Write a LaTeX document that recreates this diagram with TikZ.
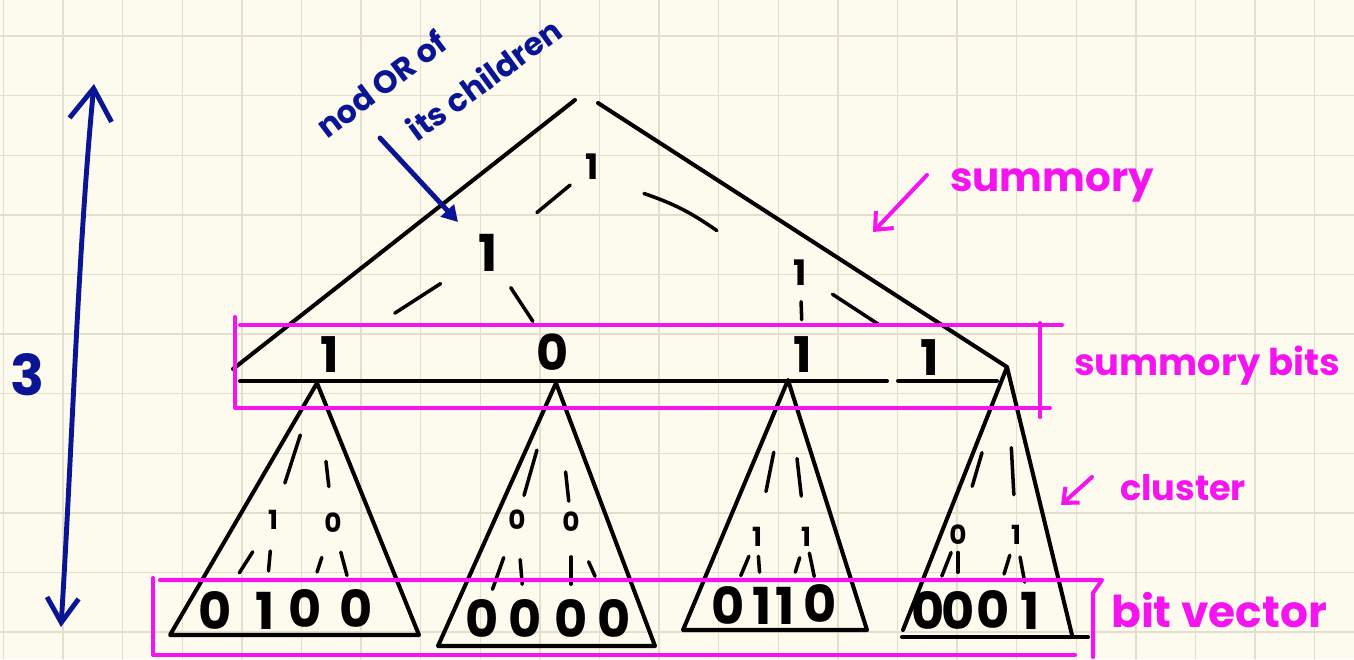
\documentclass[tikz,border=0pt]{standalone}
\usepackage{fontspec}
\setmainfont{Poppins}
\usetikzlibrary{arrows.meta,calc}
\definecolor{paper}{HTML}{FDFBEE}
\definecolor{gridc}{HTML}{E3DFCE}
\definecolor{marker}{HTML}{F414F0}
\definecolor{ink}{HTML}{0A1596}
\begin{document}
\begin{tikzpicture}[x=0.02cm, y=-0.02cm, line cap=round, line join=round,
  pen/.style={line width=2.3pt},
  branch/.style={line width=2pt},
  hl/.style={draw=marker, line width=2.3pt},
  gridline/.style={draw=gridc, line width=0.8pt},
  digit/.style={inner sep=0pt, font=\fontsize{#1}{#1}\selectfont\bfseries},
  pinktext/.style={text=marker, inner sep=0pt, font=\fontsize{#1}{#1}\selectfont\bfseries},
  bluetext/.style={text=ink, inner sep=0pt, font=\fontsize{#1}{#1}\selectfont\bfseries},
  bluepen/.style={draw=ink, line width=2.8pt}]
  \useasboundingbox (0,0) rectangle (1354,659);
  \fill[paper] (0,0) rectangle (1354,659);
  \foreach \k in {0,...,22}
    \draw[gridline] ({3.4+59.6*\k},0) -- ({3.4+59.6*\k},659);
  \foreach \k in {0,...,10}
    \draw[gridline] (0,{36+59.6*\k}) -- (1354,{36+59.6*\k});

  % summary tree
  \draw[pen] (575,100) -- (233,369);
  \draw[pen] (598,103) -- (1007,367);
  \draw[pen] (240,381) -- (887,381) (898,381) -- (997,381);
  \node[digit=20] (t) at (592,167) {1};
  \node[digit=29] (l) at (488,253) {1};
  \node[digit=20] (r) at (800,273) {1};
  \node[digit=28] (s1) at (330,355) {1};
  \node[digit=28] (s2) at (553,352) {0};
  \node[digit=28] (s3) at (803,355) {1};
  \node[digit=28] (s4) at (930,358) {1};

  % clusters
  \coordinate (c1) at (317,383);
  \coordinate (c2) at (556,383);
  \coordinate (c3) at (788,380);
  \coordinate (c4) at (1007,367);
  \draw[pen] (c1) -- (170,635) -- (419,635) -- cycle;
  \draw[pen] (c2) -- (438,646) -- (655,646) -- cycle;
  \draw[pen] (c3) -- (683,630) -- (867,630) -- cycle;
  \draw[pen] (903,630) -- (c4) -- (1072,635);
  \draw[pen] (902,637) -- (1088,637);
  \foreach \n/\x/\y/\d in {m11/273/520/1, m12/333/523/0, m21/517/520/0, m22/571/522/0,
      m31/757/537/1, m32/806/537/1, m41/958/535/0, m42/1016/535/1}
    \node[digit=15] (\n) at (\x,\y) {\d};
  \foreach \n/\x/\y/\d in {b11/215/611/0, b12/265/611/1, b13/305/609/0, b14/356/609/0,
      b21/482/619/0, b22/525/619/0, b23/571/619/0, b24/614/619/0,
      b31/728/606/0, b32/762/606/1, b33/785/606/1, b34/820/604/0,
      b41/928/611/0, b42/958/611/0, b43/993/610/0, b44/1030/611/1}
    \node[digit=29] (\n) at (\x,\y) {\d};

  % branches
  \foreach \u/\v/\p/\q in {t/l/.21/.53, l/s1/.3/.59, l/s2/.35/.69, r/s3/.35/.57, r/s4/.25/.6,
      c1/m11/.38/.73, c1/m12/.56/.74, c2/m21/.49/.82, c2/m22/.64/.85,
      c3/m31/.46/.71, c3/m32/.5/.74, c4/m41/.51/.71, c4/m42/.48/.76,
      m11/b11/.35/.58, m11/b12/.34/.56, m12/b13/.4/.57, m12/b14/.34/.61,
      m21/b21/.38/.7, m21/b22/.4/.65, m22/b23/.36/.64, m22/b24/.41/.56,
      m31/b31/.28/.56, m31/b32/.28/.51, m32/b33/.3/.51, m32/b34/.24/.59,
      m41/b41/.23/.54, m41/b42/.23/.49, m42/b43/.27/.52, m42/b44/.29/.62}
    \draw[branch] ($(\u)!\p!(\v)$) -- ($(\u)!\q!(\v)$);
  \draw[branch] ($(t)!.25!(r)$) to[bend left=8] ($(t)!.6!(r)$);

  % highlight boxes
  \draw[hl] (235,317) -- (235,408) -- (1050,408);
  \draw[hl] (240,325) -- (1062,325);
  \draw[hl] (1040,323) -- (1040,417);
  \draw[hl] (153,578) -- (153,655) -- (1075,655);
  \draw[hl] (160,580) -- (1102,580) -- (1093,593) -- (1093,657);

  % labels
  \node[pinktext=23] (summ) at (1052,185) {summory};
  \coordinate (summfrom) at (927,175);
  \coordinate (summtip) at (873,232);
  \draw[hl, -{Straight Barb[length=8pt,width=14pt]}] (summfrom) -- (summtip);
  \node[pinktext=21] (bitslbl) at (1207,366) {summory bits};
  \node[pinktext=20] (clus) at (1183,488) {cluster};
  \coordinate (clusfrom) at (1092,477);
  \coordinate (clustip) at (1061,505);
  \draw[hl, -{Straight Barb[length=7pt,width=12pt]}] (clusfrom) -- (clustip);
  \node[pinktext=25] (bv) at (1219,610) {bit vector};

  \node[bluetext=18, rotate=37] (note1) at (381,84) {nod OR of};
  \node[bluetext=18, rotate=36] (note2) at (484,79) {its children};
  \coordinate (notefrom) at (380,138);
  \coordinate (notetip) at (458,222);
  \draw[bluepen, -{Triangle[length=9pt,width=10pt]}] (notefrom) -- (notetip);
  \node[bluetext=32] (depth) at (28,375) {3};
  \coordinate (top) at (94,84);
  \coordinate (bottom) at (61,627);
  \draw[bluepen, {Straight Barb[length=18pt,width=24pt]}-{Straight Barb[length=14pt,width=18pt]}]
    (top) .. controls (78,250) and (72,450) .. (bottom);
\end{tikzpicture}
\end{document}
